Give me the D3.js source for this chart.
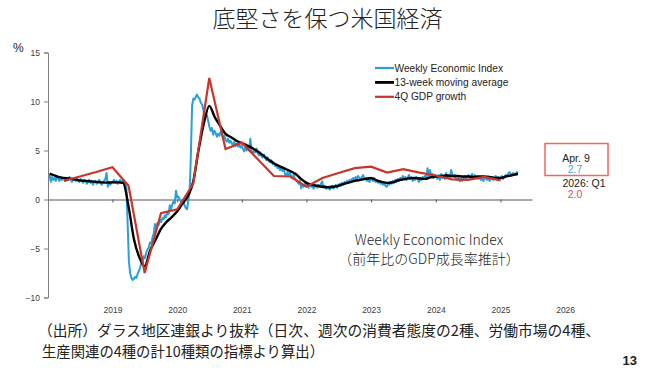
<!DOCTYPE html>
<html lang="ja">
<head>
<meta charset="utf-8">
<script src="https://cdn.jsdelivr.net/npm/d3@7"></script>
<style>
  html, body { margin: 0; padding: 0; background: #fff; }
  svg { display: block; }
  .jp { font-family: "Noto Sans CJK JP", "Noto Sans", sans-serif; }
  .en { font-family: "Liberation Sans", Arial, sans-serif; }
</style>
</head>
<body>
<svg id="chart" width="655" height="373"></svg>
<script>
const title = "底堅さを保つ米国経済";
const seriesNames = ["Weekly Economic Index", "13-week moving average", "4Q GDP growth"];
const seriesColors = ["#2a9fd9", "#000000", "#c8352b"];
const yTicks = [-10, -5, 0, 5, 10, 15];
const tickYears = [2019, 2020, 2021, 2022, 2023, 2024, 2025];
const yearLabels = [2019, 2020, 2021, 2022, 2023, 2024, 2025, 2026];

// Weekly Economic Index, one value a week from 2019-01-10 to 2026-04-09
const wei2019 = [2.5, 1.8, 2.3, 2.0, 2.2, 1.9, 2.4, 2.1, 1.9, 2.3,
  2.0, 2.2, 2.1, 1.9, 2.2, 2.0, 2.3, 2.1, 1.8, 2.0,
  2.2, 1.9, 2.1, 2.0, 1.8, 2.1, 1.9, 1.7, 2.0, 1.9,
  1.6, 1.8, 2.0, 1.7, 1.9, 1.5, 1.8, 1.9, 1.6, 1.7,
  2.0, 1.8, 1.5, 1.7, 1.9, 2.1, 2.7, 1.3, 1.8, 1.5,
  1.7];
const wei2020 = [1.8, 2.0, 1.7, 1.9, 1.6, 1.8, 2.0, 1.7, 1.9, 1.8,
  1.6, 1.2, -2.5, -6.3, -7.5, -8.0, -8.2, -8.1, -7.9, -8.0,
  -7.6, -7.3, -7.0, -6.5, -6.3, -5.8, -6.0, -5.4, -5.1, -4.9,
  -4.4, -4.5, -3.9, -3.5, -2.5, -3.0, -2.4, -2.6, -2.1, -2.3,
  -1.9, -2.0, -1.6, -1.8, -1.3, -1.5, -0.6, -1.0, -0.5, -0.2,
  -0.4, 0.9, 0.2];
const wei2021 = [0.3, 0.0, -0.2, -0.4, -0.3, -0.6, -0.9, -1.0, 0.1, 0.7,
  4.5, 9.6, 10.3, 10.2, 10.5, 10.7, 10.4, 10.3, 9.9, 9.7,
  9.2, 8.6, 8.4, 8.6, 8.0, 7.4, 7.0, 7.3, 6.6, 7.0,
  6.8, 6.4, 6.7, 6.5, 6.9, 6.6, 6.2, 6.5, 6.1, 5.9,
  6.2, 5.8, 6.0, 5.7, 5.6, 5.9, 5.5, 5.7, 5.4, 5.6,
  5.3, 5.5];
const wei2022 = [5.2, 4.9, 5.3, 5.0, 5.4, 5.0, 6.2, 4.9, 4.7, 5.0,
  4.8, 5.2, 4.7, 4.5, 4.8, 4.4, 4.3, 4.6, 4.2, 4.0,
  4.3, 3.9, 3.8, 4.0, 3.6, 3.7, 3.4, 3.5, 3.2, 3.3,
  3.0, 3.2, 2.9, 3.1, 2.6, 2.4, 2.8, 2.5, 2.7, 2.4,
  2.2, 2.5, 2.1, 2.0, 1.8, 1.6, 1.9, 1.15, 1.5, 1.3,
  1.6, 1.4];
const wei2023 = [1.5, 1.2, 1.6, 1.3, 1.4, 1.1, 1.5, 1.3, 1.2, 1.5,
  1.3, 1.6, 1.85, 1.2, 1.4, 1.1, 1.15, 1.3, 1.0, 1.2,
  1.4, 1.1, 1.3, 1.5, 1.2, 1.4, 1.6, 1.4, 1.7, 1.5,
  1.8, 1.6, 1.9, 1.7, 2.0, 1.8, 2.1, 2.2, 1.9, 2.3,
  2.1, 2.4, 2.2, 2.0, 2.3, 2.5, 2.1, 2.2, 1.9, 2.1,
  1.8, 2.0];
const wei2024 = [2.1, 1.9, 2.2, 1.8, 2.0, 1.7, 1.9, 1.6, 1.8, 1.5,
  1.7, 1.4, 1.3, 1.6, 1.5, 1.8, 1.6, 1.9, 1.7, 2.0,
  1.8, 2.1, 1.9, 2.2, 2.0, 2.4, 2.1, 2.3, 2.0, 2.2,
  2.5, 2.1, 2.3, 1.9, 2.2, 2.0, 2.3, 2.1, 1.8, 2.2,
  2.0, 2.3, 2.1, 2.4, 2.2, 3.2, 2.3, 3.0, 2.4, 2.6,
  2.2, 2.5];
const wei2025 = [2.4, 2.1, 2.5, 2.0, 2.6, 2.2, 2.4, 2.1, 2.7, 2.3,
  2.5, 2.2, 3.0, 2.6, 2.3, 2.5, 2.1, 2.0, 2.2, 1.85,
  2.1, 1.9, 2.2, 2.4, 2.1, 2.3, 2.5, 2.2, 2.4, 2.6,
  2.3, 2.5, 2.2, 2.4, 2.1, 2.3, 2.0, 2.2, 1.9, 2.1,
  2.3, 2.0, 2.2, 1.9, 2.1, 2.3, 2.0, 2.2, 2.4, 2.1,
  2.3, 2.0];
const wei2026 = [2.2, 2.4, 2.1, 2.3, 2.5, 2.4, 2.6, 2.8, 2.6, 2.5, 2.7, 2.6, 2.5, 2.8, 2.7];

// 13-week moving average: first value is 2019-01-10, then one per month end, last is 2026-04-09
const ma2019 = [2.65, 2.5, 2.3, 2.2, 2.15, 2.05, 1.95, 1.9, 1.85, 1.8, 1.75, 1.72, 1.75];
const ma2020 = [1.75, 1.7, -0.7, -4.0, -5.9, -6.8, -5.2, -4.1, -3.0, -2.3, -1.8, -1.2];
const ma2021 = [-0.4, 0.3, 1.8, 5.0, 7.8, 9.55, 8.4, 7.5, 6.7, 6.35, 6.0, 5.75];
const ma2022 = [5.5, 5.25, 4.9, 4.5, 4.05, 3.7, 3.4, 3.15, 2.9, 2.6, 2.1, 1.7];
const ma2023 = [1.5, 1.4, 1.3, 1.25, 1.3, 1.4, 1.6, 1.75, 1.9, 2.0, 2.1, 2.2];
const ma2024 = [1.95, 1.8, 1.7, 1.75, 1.95, 2.05, 2.15, 2.2, 2.15, 2.1, 2.25, 2.35];
const ma2025 = [2.4, 2.45, 2.4, 2.4, 2.35, 2.35, 2.3, 2.35, 2.35, 2.3, 2.2, 2.2];
const ma2026 = [2.35, 2.45, 2.6, 2.7];

// 4Q GDP growth, one value per quarter end, 2019 Q1 to 2025 Q4
const gdp2019 = [1.9, 2.35, 2.8, 3.3];
const gdp2020 = [1.4, -7.5, -1.4, -1.0];
const gdp2021 = [1.6, 12.4, 5.15, 5.8];
const gdp2022 = [4.1, 2.4, 2.35, 1.3];
const gdp2023 = [2.2, 2.7, 3.2, 3.35];
const gdp2024 = [2.75, 3.1, 2.75, 2.45];
const gdp2025 = [2.05, 2.0, 2.3, 1.95];

const latestLabels = ["Apr. 9", "2.7", "2026: Q1", "2.0"];
const boxTitle = ["Weekly Economic Index", "（前年比のGDP成長率推計）"];
const sourceNote = ["（出所）ダラス地区連銀より抜粋（日次、週次の消費者態度の2種、労働市場の4種、",
  "生産関連の4種の計10種類の指標より算出）"];
const pageNo = "13";

// ---- build series
const weiVals = [].concat(wei2019, wei2020, wei2021, wei2022, wei2023, wei2024, wei2025, wei2026);
const weiStart = new Date(2019, 0, 10);
const wei = weiVals.map((v, i) => ({ date: d3.timeDay.offset(weiStart, 7 * i), value: v }));

const maVals = [].concat(ma2019, ma2020, ma2021, ma2022, ma2023, ma2024, ma2025, ma2026);
const maDates = [weiStart]
  .concat(d3.timeMonth.range(new Date(2019, 1, 1), new Date(2026, 3, 1)).map(d => d3.timeDay.offset(d, -1)))
  .concat([new Date(2026, 3, 9)]);
const ma = maVals.map((v, i) => ({ date: maDates[i], value: v }));

const gdpVals = [].concat(gdp2019, gdp2020, gdp2021, gdp2022, gdp2023, gdp2024, gdp2025);
const gdp = gdpVals.map((v, i) => ({
  date: d3.timeDay.offset(d3.timeMonth.offset(new Date(2019, 0, 1), 3 * (i + 1)), -1),
  value: v
}));

// ---- scales
const svg = d3.select("#chart");
const x = d3.scaleTime()
  .domain([new Date(2019, 0, 1), new Date(2026, 5, 27)])
  .range([48, 532]);
const y = d3.scaleLinear().domain([-10, 15]).range([297.5, 52.5]);
const yearEnd = yr => new Date(yr, 11, 31);

// title
svg.append("text")
  .attr("class", "jp")
  .attr("x", 327.5).attr("y", 27)
  .attr("text-anchor", "middle")
  .style("font-size", "23px")
  .style("font-weight", 300)
  .attr("fill", "#222")
  .text(title);

// y axis
const yAxis = svg.append("g")
  .attr("transform", `translate(${x.range()[0]},0)`)
  .call(d3.axisLeft(y).tickValues(yTicks).tickSize(4).tickPadding(4));
yAxis.select(".domain").attr("stroke", "#7f7f7f");
yAxis.selectAll(".tick line").attr("stroke", "#7f7f7f");
yAxis.selectAll(".tick text")
  .attr("class", "en")
  .style("font-size", "8.5px")
  .attr("fill", "#404040");

svg.append("text")
  .attr("class", "en")
  .attr("x", 13).attr("y", 52)
  .style("font-size", "12px")
  .attr("fill", "#222")
  .text("%");

// zero line with year ticks
const xAxis = svg.append("g")
  .attr("transform", `translate(0,${y(0)})`)
  .call(d3.axisBottom(x).tickValues(tickYears.map(yearEnd)).tickSize(3).tickSizeOuter(0).tickFormat(""));
xAxis.select(".domain").attr("stroke", "#555");
xAxis.selectAll(".tick line").attr("stroke", "#555");

// year labels along the bottom
const xLabels = svg.append("g")
  .attr("transform", "translate(0,304)")
  .call(d3.axisBottom(x).tickValues(yearLabels.map(yearEnd)).tickSize(0).tickFormat(d3.timeFormat("%Y")));
xLabels.select(".domain").remove();
xLabels.selectAll(".tick text")
  .attr("class", "en")
  .style("font-size", "8.5px")
  .attr("fill", "#404040");

// lines
const line = d3.line().x(d => x(d.date)).y(d => y(d.value));
svg.append("path").datum(wei)
  .attr("fill", "none").attr("stroke", seriesColors[0]).attr("stroke-width", 2)
  .attr("stroke-linejoin", "round")
  .attr("d", line);
svg.append("path").datum(ma)
  .attr("fill", "none").attr("stroke", seriesColors[1]).attr("stroke-width", 2.4)
  .attr("stroke-linejoin", "round")
  .attr("d", line.curve(d3.curveMonotoneX));
svg.append("path").datum(gdp)
  .attr("fill", "none").attr("stroke", seriesColors[2]).attr("stroke-width", 2.2)
  .attr("stroke-linejoin", "miter")
  .attr("d", line.curve(d3.curveLinear));

// legend
const legend = svg.append("g").attr("transform", "translate(375,68)");
seriesNames.forEach((name, i) => {
  const row = legend.append("g").attr("transform", `translate(0,${i * 14.4})`);
  row.append("line")
    .attr("x1", 0).attr("x2", 19).attr("y1", 0).attr("y2", 0)
    .attr("stroke", seriesColors[i]).attr("stroke-width", i === 1 ? 2.8 : 2.2);
  row.append("text")
    .attr("class", "en")
    .attr("x", 19.5).attr("y", 3.5)
    .style("font-size", "10.2px")
    .attr("fill", "#222")
    .text(name);
});

// latest values box
svg.append("rect")
  .attr("x", 545).attr("y", 143.5).attr("width", 63).attr("height", 32)
  .attr("fill", "none").attr("stroke", "#f06666").attr("stroke-width", 1.5);
const latestColors = ["#222", "#3fa6e0", "#222", "#e0504a"];
const latestPos = [[576, 162], [575, 173], [584, 187], [575, 198]];
latestLabels.forEach((t, i) => {
  svg.append("text")
    .attr("class", "en")
    .attr("x", latestPos[i][0]).attr("y", latestPos[i][1])
    .attr("text-anchor", "middle")
    .style("font-size", "10.5px")
    .attr("fill", latestColors[i])
    .text(t);
});

// chart caption
boxTitle.forEach((t, i) => {
  svg.append("text")
    .attr("class", "jp")
    .attr("x", 429).attr("y", 245 + i * 19)
    .attr("text-anchor", "middle")
    .style("font-size", "14px")
    .style("font-weight", 300)
    .attr("fill", "#222")
    .text(t);
});

// source note
const noteWidths = [562, 282];
sourceNote.forEach((t, i) => {
  svg.append("text")
    .attr("class", "jp")
    .attr("x", i === 0 ? 38 : 42).attr("y", 336 + i * 21)
    .attr("textLength", noteWidths[i])
    .attr("lengthAdjust", "spacingAndGlyphs")
    .style("font-size", "15px")
    .attr("fill", "#222")
    .text(t);
});

svg.append("text")
  .attr("class", "en")
  .attr("x", 637).attr("y", 365)
  .attr("text-anchor", "end")
  .style("font-size", "13px")
  .style("font-weight", 700)
  .attr("fill", "#222")
  .text(pageNo);
</script>
</body>
</html>
